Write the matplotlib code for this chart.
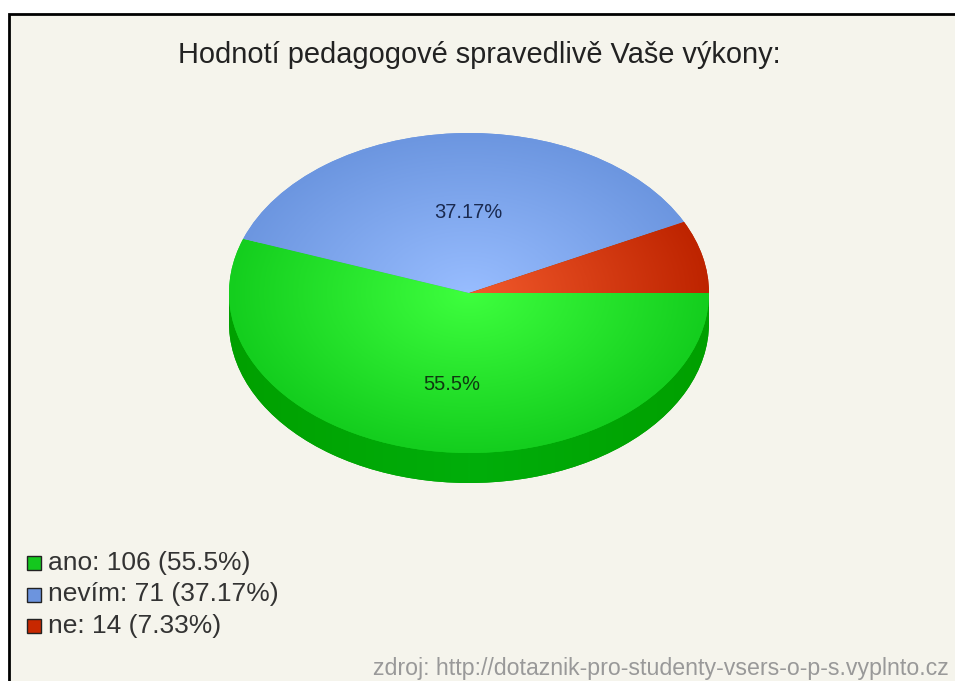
import numpy as np
import matplotlib
matplotlib.use("Agg")
import matplotlib.pyplot as plt
from matplotlib.colors import LinearSegmentedColormap
from matplotlib.patches import Rectangle

TITLE = "Hodnotí pedagogové spravedlivě Vaše výkony:"
SOURCE = "zdroj: http://dotaznik-pro-studenty-vsers-o-p-s.vyplnto.cz"
categories = ["ano", "nevím", "ne"]
counts = [106, 71, 14]
percent_labels = ["55.5%", "37.17%", "7.33%"]

W, H = 955, 681
BG = "#F5F4EC"
plt.rcParams["font.family"] = ["Liberation Sans", "DejaVu Sans"]

fig = plt.figure(figsize=(W / 100, H / 100), dpi=100, facecolor="white")
fig.add_artist(Rectangle((9 / W, -0.01), 1.1, 1.01 - 14 / H, transform=fig.transFigure,
                         facecolor=BG, edgecolor="black", linewidth=2, zorder=-5))

# pie ellipse: x 229..709, y 133..453 px; depth 30 px
L, R, T, B = 229, 709, 133, 453
ax = fig.add_axes([L / W, 1 - 483 / H, (R - L) / W, (483 - T) / H])
ax.patch.set_visible(False)
depth = 30 / 160

shades = {
    "ano": ("#3EFF3E", "#14CE1E"),
    "nevím": ("#98BDFF", "#6C96E0"),
    "ne": ("#F25A2C", "#BE2400"),
}
side_colors = ("#00AE0A", "#00A000")

yy, xx = np.mgrid[1:-1:400j, -1:1:400j]
rr = np.clip(np.hypot(xx, yy), 0, 1)

# side wall
side, _ = ax.pie(counts, startangle=0, counterclock=False, radius=1, center=(0, -depth),
                 colors=[side_colors[1]] * 3, wedgeprops={"linewidth": 0})
cm = LinearSegmentedColormap.from_list("s", [side_colors[0], side_colors[1]])
for w in side:
    im = ax.imshow(np.abs(xx), extent=(-1, 1, -1 - depth, 1 - depth), cmap=cm, vmin=0, vmax=1,
                   aspect="auto", zorder=1.5)
    im.set_clip_path(w)
ax.fill_between(np.linspace(-1, 1, 300), -depth, 0, color=side_colors[1], linewidth=0, zorder=1)

# top
top, _ = ax.pie(counts, startangle=0, counterclock=False, radius=1,
                colors=[shades[c][1] for c in categories], wedgeprops={"linewidth": 0})
for w, c in zip(top, categories):
    w.set_zorder(2)
    cm = LinearSegmentedColormap.from_list(c, list(shades[c]))
    im = ax.imshow(rr, extent=(-1, 1, -1, 1), cmap=cm, vmin=0, vmax=1, aspect="auto", zorder=3)
    im.set_clip_path(w)

ax.set_aspect("auto")
ax.set_xlim(-1, 1)
ax.set_ylim(-1 - depth, 1)
ax.axis("off")

# value labels inside the pie
fig.text(468 / W, 1 - 213 / H, percent_labels[1], ha="center", va="center", fontsize=14.5, color="#1A2A50")
fig.text(452 / W, 1 - 384 / H, percent_labels[0], ha="center", va="center", fontsize=14.5, color="#0E3A10")

fig.text(479 / W, 1 - 55 / H, TITLE, ha="center", va="center", fontsize=20.9, color="#222222")

colors = ["#14C81E", "#6C94DE", "#C82800"]
for i, (c, n, p, col) in enumerate(zip(categories, counts, percent_labels, colors)):
    y = 563 + i * 31.5
    fig.add_artist(Rectangle((27 / W, 1 - (y + 7) / H), 14 / W, 14 / H, transform=fig.transFigure,
                             facecolor=col, edgecolor="#222222", linewidth=1))
    fig.text(48 / W, 1 - y / H, f"{c}: {n} ({p})", ha="left", va="center", fontsize=19, color="#333333")

fig.text(949 / W, 1 - 669 / H, SOURCE, ha="right", va="center", fontsize=16.7, color="#999999")

fig.savefig("out.png", dpi=100)
